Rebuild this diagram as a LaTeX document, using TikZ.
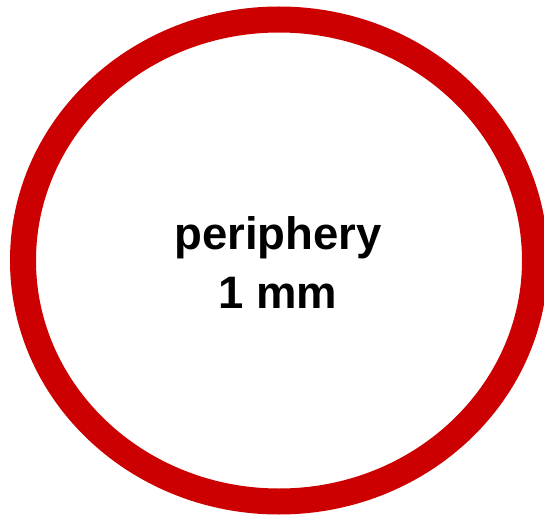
\documentclass[tikz,border=0pt]{standalone}
\usepackage{fontspec}
\setmainfont{Liberation Sans}
\usetikzlibrary{shapes.geometric, positioning}
\definecolor{ringred}{HTML}{CC0000}

\begin{document}
\begin{tikzpicture}[
    x=1pt, y=-1pt,
    ring/.style={draw=ringred, line width=26pt, ellipse, minimum width=512pt,
                minimum height=482pt, inner sep=0pt},
    tagtext/.style={font=\fontsize{45.5}{59}\selectfont\bfseries, align=center}
]
    \useasboundingbox (0,0) rectangle (544,516);
    \node[ring]    (rim)  at (279, 260.5) {};
    \node[tagtext] (name) at (278, 263) {periphery\\1 mm};
\end{tikzpicture}
\end{document}
